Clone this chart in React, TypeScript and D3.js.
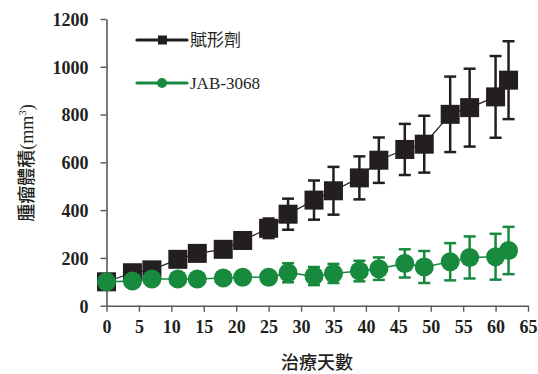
import React, { useEffect, useRef } from 'react';
import * as d3 from 'd3';

// days of measurement
const days = [0, 4, 7, 11, 14, 18, 21, 25, 28, 32, 35, 39, 42, 46, 49, 53, 56, 60, 62];

// vehicle group (賦形劑)
const vehicleMean = [100, 138, 150, 194, 219, 236, 273, 324, 383, 442, 481, 535, 609, 654, 676, 801, 829, 874, 944];
const vehicleErr = [10, 15, 15, 20, 20, 20, 22, 41, 65, 82, 100, 90, 95, 107, 119, 158, 163, 171, 163];

// JAB-3068 group
const drugMean = [100, 103, 112, 112, 112, 116, 119, 119, 138, 124, 135, 145, 155, 177, 162, 184, 202, 205, 231];
const drugErr = [10, 10, 12, 12, 12, 14, 15, 18, 40, 38, 40, 43, 47, 59, 67, 78, 88, 96, 99];

const xTicks = d3.range(0, 66, 5);
const yTicks = d3.range(0, 1201, 200);

const seriesNames = ['賦形劑', 'JAB-3068'];
const BLACK = '#231f20';
const GREEN = '#178a3e';
const AXIS = '#58595b';

const W = 538, H = 374;

export default function App() {
  const ref = useRef<SVGSVGElement>(null);

  useEffect(() => {
    const svg = d3.select(ref.current);
    svg.selectAll('*').remove();

    const x = d3.scaleLinear().domain([0, 65]).range([106.5, 528]);
    const y = d3.scaleLinear().domain([0, 1200]).range([305.7, 19]);

    // axes
    const xAxis = svg.append('g')
      .attr('transform', `translate(0, ${y(0)})`)
      .call(d3.axisBottom(x).tickValues(xTicks).tickFormat(d3.format('d')).tickSize(6).tickPadding(9).tickSizeOuter(0));
    const yAxis = svg.append('g')
      .attr('transform', `translate(${x(0)}, 0)`)
      .call(d3.axisLeft(y).tickValues(yTicks).tickFormat(d3.format('d')).tickSize(6).tickPadding(12).tickSizeOuter(0));

    [xAxis, yAxis].forEach(g => {
      g.attr('font-family', '"Liberation Serif", "Times New Roman", serif')
        .attr('font-size', 18)
        .attr('font-weight', 'bold');
      g.select('.domain').attr('stroke', AXIS).attr('stroke-width', 1.6);
      g.selectAll('.tick line').attr('stroke', AXIS).attr('stroke-width', 1.4);
      g.selectAll('.tick text').attr('fill', '#231f20');
    });
    yAxis.selectAll('.tick text').attr('dy', '0.35em');

    // axis titles
    svg.append('text')
      .attr('x', 317)
      .attr('y', 369)
      .attr('text-anchor', 'middle')
      .attr('fill', '#231f20')
      .attr('font-family', '"Noto Sans CJK TC", sans-serif')
      .attr('font-weight', 500)
      .attr('font-size', 18)
      .text('治療天數');

    const yt = svg.append('text')
      .attr('transform', 'translate(33, 163) rotate(-90)')
      .attr('text-anchor', 'middle')
      .attr('fill', '#231f20')
      .attr('font-size', 18);
    yt.append('tspan').attr('font-family', '"Noto Sans CJK TC", sans-serif').attr('font-weight', 500).text('腫瘤體積');
    yt.append('tspan').attr('font-family', '"Liberation Serif", serif').text('(mm');
    yt.append('tspan').attr('font-family', '"Liberation Serif", serif').attr('font-size', 11).attr('dy', -7).text('3');
    yt.append('tspan').attr('font-family', '"Liberation Serif", serif').attr('dy', 7).text(')');

    const line = d3.line<number>().x((_, i) => x(days[i])).y(d => y(d));

    const drawSeries = (mean: number[], err: number[], color: string, lineW: number, kind: 'square' | 'circle') => {
      const g = svg.append('g');
      g.append('path')
        .datum(mean)
        .attr('d', line)
        .attr('fill', 'none')
        .attr('stroke', color)
        .attr('stroke-width', lineW);

      const eb = g.selectAll('.eb').data(mean).join('g');
      eb.append('line')
        .attr('x1', (_, i) => x(days[i])).attr('x2', (_, i) => x(days[i]))
        .attr('y1', (d, i) => y(d + err[i])).attr('y2', (d, i) => y(d - err[i]))
        .attr('stroke', color).attr('stroke-width', 2.5);
      [1, -1].forEach(s => {
        eb.append('line')
          .attr('x1', (_, i) => x(days[i]) - 6).attr('x2', (_, i) => x(days[i]) + 6)
          .attr('y1', (d, i) => y(d + s * err[i])).attr('y2', (d, i) => y(d + s * err[i]))
          .attr('stroke', color).attr('stroke-width', 2.5);
      });

      if (kind === 'square') {
        g.selectAll('.m').data(mean).join('rect')
          .attr('x', (_, i) => x(days[i]) - 9.5)
          .attr('y', d => y(d) - 9.5)
          .attr('width', 19).attr('height', 19)
          .attr('fill', color);
      } else {
        g.selectAll('.m').data(mean).join('circle')
          .attr('cx', (_, i) => x(days[i]))
          .attr('cy', d => y(d))
          .attr('r', 9.5)
          .attr('fill', color);
      }
    };

    drawSeries(vehicleMean, vehicleErr, BLACK, 1.2, 'square');
    drawSeries(drugMean, drugErr, GREEN, 1.6, 'circle');

    // legend
    const leg = svg.append('g');
    const legRows = [
      { name: seriesNames[0], color: BLACK, kind: 'square', y: 40 },
      { name: seriesNames[1], color: GREEN, kind: 'circle', y: 83 },
    ];
    legRows.forEach(r => {
      leg.append('line').attr('x1', 137).attr('x2', 187).attr('y1', r.y).attr('y2', r.y)
        .attr('stroke', r.color).attr('stroke-width', 3.2).attr('stroke-linecap', 'round');
      if (r.kind === 'square') {
        leg.append('rect').attr('x', 158).attr('y', r.y - 4.5).attr('width', 9).attr('height', 9).attr('fill', r.color);
      } else {
        leg.append('circle').attr('cx', 162).attr('cy', r.y).attr('r', 5).attr('fill', r.color);
      }
      leg.append('text')
        .attr('x', 190).attr('y', r.y).attr('dy', '0.35em')
        .attr('fill', '#231f20')
        .attr('font-family', r.kind === 'square' ? '"Noto Sans CJK TC", serif' : '"Liberation Serif", serif')
        .attr('font-size', 17)
        .text(r.name);
    });
  }, []);

  return (
    <svg ref={ref} width={W} height={H} style={{ position: 'absolute', left: 0, top: 0, background: '#fff' }} />
  );
}
